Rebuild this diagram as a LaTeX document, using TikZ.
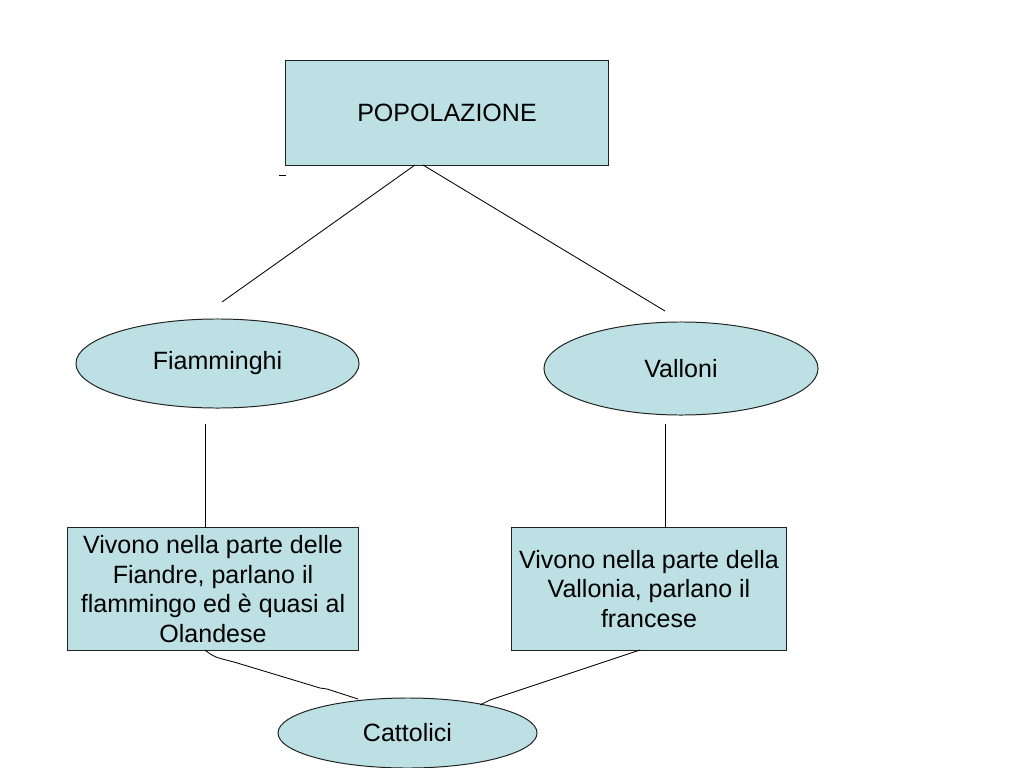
\documentclass[tikz,border=0pt]{standalone}
\usepackage{fontspec}
\setmainfont{Liberation Sans}
\usetikzlibrary{shapes.geometric}
\definecolor{boxfill}{HTML}{BCE0E3}
\definecolor{edge}{HTML}{222222}
\tikzset{
  lbl/.style={font=\fontsize{17.8}{21.2}\selectfont, text=black},
  rectbox/.style={lbl, draw=edge, fill=boxfill, line width=0.7pt, rectangle, inner sep=0pt, align=center},
  ellbox/.style={lbl, draw=edge, fill=boxfill, line width=0.7pt, ellipse, inner sep=0pt},
  conn/.style={draw=black, line width=0.6pt}
}
\begin{document}
\begin{tikzpicture}[x=0.025cm,y=-0.025cm]
\useasboundingbox[fill=white] (0,0) rectangle (1024,768);
\node[rectbox, minimum width=8.05cm, minimum height=2.6cm] (pop) at (447,113) {POPOLAZIONE};
\node[ellbox, minimum width=7.075cm, minimum height=2.225cm] (fia) at (217.5,363.5) {Fiamminghi};
\node[ellbox, minimum width=6.85cm, minimum height=2.325cm] (val) at (681,368.5) {Valloni};
\node[rectbox, minimum width=7.25cm, minimum height=3.05cm] (lbox) at (213,589) {Vivono nella parte delle\\Fiandre, parlano il\\flammingo ed è quasi al\\Olandese};
\node[rectbox, minimum width=6.85cm, minimum height=3.05cm] (rbox) at (649,589) {Vivono nella parte della\\Vallonia, parlano il\\francese};
\node[ellbox, minimum width=6.475cm, minimum height=1.75cm] (cat) at (407.5,733) {Cattolici};
% free ends of connectors
\coordinate (p1) at (415,165);
\coordinate (p2) at (423,165);
\coordinate (f1) at (222,302);
\coordinate (v1) at (665,311);
\coordinate (f2) at (205,424);
\coordinate (l1) at (205,528);
\coordinate (v2) at (665,424);
\coordinate (r1) at (665,528);
\coordinate (l2) at (205,650);
\coordinate (c1) at (358,699);
\coordinate (r2) at (640,650);
\coordinate (c2) at (480,705);
\coordinate (m1) at (279,175);
\coordinate (m2) at (286,175);
\draw[conn] (p1) -- (f1);
\draw[conn] (p2) -- (v1);
\draw[conn] (f2) -- (l1);
\draw[conn] (v2) -- (r1);
\draw[conn] (l2) .. controls (214,657) .. (234,662) -- (320,688) -- (327,689) -- (c1);
\draw[conn] (r2) -- (490,700) -- (c2);
\draw[conn] (m1) -- (m2);
\end{tikzpicture}
\end{document}
